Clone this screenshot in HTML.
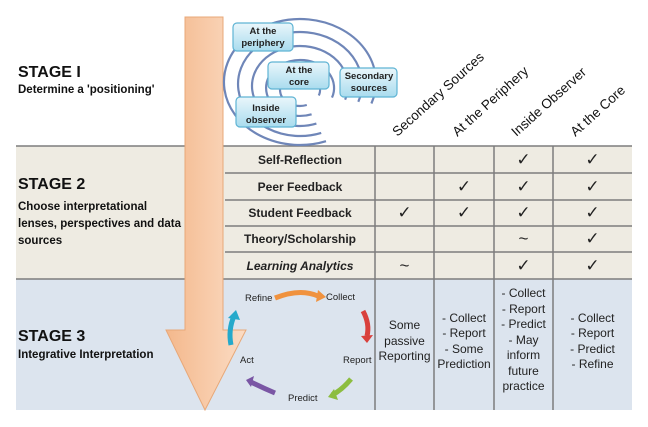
<!DOCTYPE html>
<html><head><meta charset="utf-8"><style>
body{margin:0;width:648px;height:427px;background:#fff;font-family:"Liberation Sans",sans-serif;overflow:hidden;position:relative}
.abs{position:absolute}
.cell{position:absolute;display:flex;align-items:center;justify-content:center;text-align:center;color:#222}
.lbl{font-size:12px;font-weight:bold}
.ck{font-size:17px}
.rot{position:absolute;transform-origin:0 100%;transform:rotate(-42deg);font-size:13.5px;white-space:nowrap;color:#111;line-height:16px}
</style></head><body>
<div class="abs" style="left:16px;top:146px;width:616px;height:133px;background:#eeebe2"></div>
<div class="abs" style="left:16px;top:279px;width:616px;height:131px;background:#dce4ee"></div>
<svg class="abs" style="left:0;top:0" width="648" height="427">
<g stroke="#7d7d7d" stroke-width="1.5">
<line x1="16" y1="146" x2="632" y2="146"/>
<line x1="16" y1="279" x2="632" y2="279"/>
<line x1="225" y1="173" x2="632" y2="173"/>
<line x1="225" y1="200" x2="632" y2="200"/>
<line x1="225" y1="226" x2="632" y2="226"/>
<line x1="225" y1="252" x2="632" y2="252"/>
<line x1="375" y1="146" x2="375" y2="410"/>
<line x1="434" y1="146" x2="434" y2="410"/>
<line x1="494" y1="146" x2="494" y2="410"/>
<line x1="553" y1="146" x2="553" y2="410"/>
</g>
<defs><linearGradient id="ag" x1="0" x2="1"><stop offset="0" stop-color="#f4b88c"/><stop offset="1" stop-color="#fbdcc4"/></linearGradient>
<linearGradient id="bg" x1="0" y1="0" x2="0" y2="1"><stop offset="0" stop-color="#eaf6fb"/><stop offset="1" stop-color="#a9dcee"/></linearGradient></defs>
<path d="M185 17 H223 V330 H246 L205 410 L166 330 H185 Z" fill="url(#ag)" stroke="#e8a878" stroke-width="1"/>
<g fill="none" stroke="#6f86b8" stroke-width="2.2">
<path d="M371.4 103.5 A76 63 0 1 0 326 141.2"/>
<path d="M358.3 101.8 A62 52 0 1 0 321.2 132.9"/>
<path d="M345.1 99.7 A48 40 0 1 0 316.4 123.6"/>
<path d="M332 97.6 A34 28 0 1 0 311.6 114.3"/>
<path d="M318.8 95.5 A20 16 0 1 0 306.8 105"/>
</g>
<g stroke="#5fb4d4" stroke-width="1.2" fill="url(#bg)">
<rect x="233" y="23" width="60" height="28" rx="4"/>
<rect x="268" y="62" width="61" height="27" rx="4"/>
<rect x="340" y="68" width="57" height="29" rx="4"/>
<rect x="236" y="97" width="60" height="30" rx="4"/>
</g>
<g font-size="9.5" font-weight="bold" fill="#222" text-anchor="middle" font-family="Liberation Sans">
<text x="263" y="34">At the</text><text x="263" y="46">periphery</text>
<text x="299" y="73">At the</text><text x="299" y="85">core</text>
<text x="369" y="79">Secondary</text><text x="369" y="91">sources</text>
<text x="266" y="111">Inside</text><text x="266" y="123">observer</text>
</g>
<g fill="none" stroke-width="5">
<path d="M275 298 Q300 288 318 296" stroke="#f0923e"/>
<path d="M363 311 Q370 324 367 336" stroke="#d9403c"/>
<path d="M351 379 Q342 390 332 395" stroke="#8cbd3f"/>
<path d="M275 393 Q263 388 251 382" stroke="#7a56a4"/>
<path d="M231 345 Q228 330 234 316" stroke="#25a9cb"/>
</g>
<g stroke="none">
<polygon points="318,290 326,297 316,302" fill="#f0923e"/>
<polygon points="361,336 373,335 367,343" fill="#d9403c"/>
<polygon points="334,389 328,397 338,400" fill="#8cbd3f"/>
<polygon points="254,376 246,380 251,387" fill="#7a56a4"/>
<polygon points="228,318 236,310 240,320" fill="#25a9cb"/>
</g>
<g font-size="9.5" fill="#222" font-family="Liberation Sans">
<text x="245" y="301">Refine</text><text x="326" y="300">Collect</text>
<text x="343" y="363">Report</text><text x="240" y="363">Act</text><text x="288" y="401">Predict</text>
</g>
</svg>
<div class="abs" style="left:18px;top:64px;font-size:16px;font-weight:bold;color:#111">STAGE I</div>
<div class="abs" style="left:18px;top:84px;font-size:11.5px;font-weight:bold;color:#111">Determine a 'positioning'</div>
<div class="abs" style="left:18px;top:176px;font-size:16px;font-weight:bold;color:#111">STAGE 2</div>
<div class="abs" style="left:18px;top:199px;font-size:11.5px;font-weight:bold;color:#111;line-height:17px;width:170px">Choose interpretational lenses, perspectives and data sources</div>
<div class="abs" style="left:18px;top:328px;font-size:16px;font-weight:bold;color:#111">STAGE 3</div>
<div class="abs" style="left:18px;top:349px;font-size:11.5px;font-weight:bold;color:#111">Integrative Interpretation</div>
<div class="rot" style="left:400px;top:124px">Secondary Sources</div>
<div class="rot" style="left:460px;top:124px">At the Periphery</div>
<div class="rot" style="left:519px;top:124px">Inside Observer</div>
<div class="rot" style="left:578px;top:124px">At the Core</div>
<div class="cell lbl" style="left:225px;top:146px;width:150px;height:27px">Self-Reflection</div>
<div class="cell lbl" style="left:225px;top:173px;width:150px;height:27px">Peer Feedback</div>
<div class="cell lbl" style="left:225px;top:200px;width:150px;height:26px">Student Feedback</div>
<div class="cell lbl" style="left:225px;top:226px;width:150px;height:26px">Theory/Scholarship</div>
<div class="cell lbl" style="left:225px;top:252px;width:150px;height:27px;font-style:italic">Learning Analytics</div>
<div class="cell ck" style="left:494px;top:146px;width:59px;height:27px">✓</div>
<div class="cell ck" style="left:553px;top:146px;width:79px;height:27px">✓</div>
<div class="cell ck" style="left:434px;top:173px;width:60px;height:27px">✓</div>
<div class="cell ck" style="left:494px;top:173px;width:59px;height:27px">✓</div>
<div class="cell ck" style="left:553px;top:173px;width:79px;height:27px">✓</div>
<div class="cell ck" style="left:375px;top:200px;width:59px;height:26px">✓</div>
<div class="cell ck" style="left:434px;top:200px;width:60px;height:26px">✓</div>
<div class="cell ck" style="left:494px;top:200px;width:59px;height:26px">✓</div>
<div class="cell ck" style="left:553px;top:200px;width:79px;height:26px">✓</div>
<div class="cell ck" style="left:494px;top:226px;width:59px;height:26px">~</div>
<div class="cell ck" style="left:553px;top:226px;width:79px;height:26px">✓</div>
<div class="cell ck" style="left:375px;top:252px;width:59px;height:27px">~</div>
<div class="cell ck" style="left:494px;top:252px;width:59px;height:27px">✓</div>
<div class="cell ck" style="left:553px;top:252px;width:79px;height:27px">✓</div>
<div class="cell" style="left:375px;top:279px;width:59px;height:131px;font-size:12px;line-height:15.5px;padding-bottom:6px;box-sizing:border-box">Some<br>passive<br>Reporting</div>
<div class="cell" style="left:434px;top:279px;width:60px;height:131px;font-size:12px;line-height:15.5px;padding-bottom:6px;box-sizing:border-box">- Collect<br>- Report<br>- Some<br>Prediction</div>
<div class="cell" style="left:494px;top:279px;width:59px;height:131px;font-size:12px;line-height:15.5px;padding-bottom:8px;box-sizing:border-box">- Collect<br>- Report<br>- Predict<br>- May<br>inform<br>future<br>practice</div>
<div class="cell" style="left:553px;top:279px;width:79px;height:131px;font-size:12px;line-height:15.5px;padding-bottom:6px;box-sizing:border-box">- Collect<br>- Report<br>- Predict<br>- Refine</div>
</body></html>
